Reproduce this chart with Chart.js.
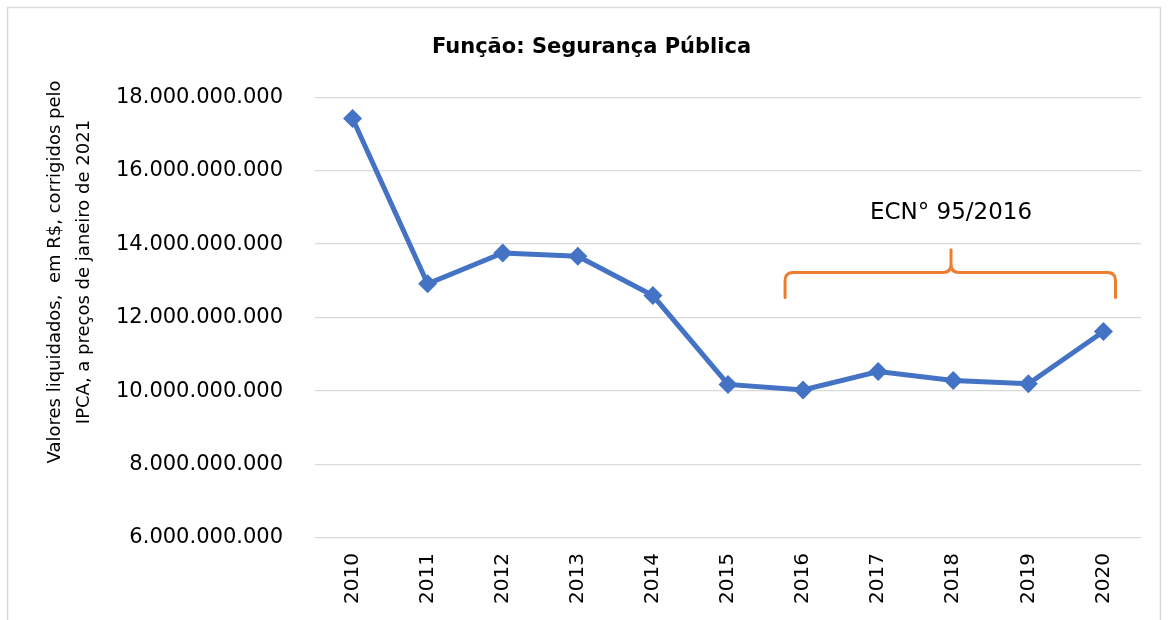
<!DOCTYPE html>
<html>
<head>
<meta charset="utf-8">
<script src="https://cdn.jsdelivr.net/npm/chart.js@4/dist/chart.umd.min.js"></script>
<style>
  body { margin: 0; background: #fff; }
  #wrap { width: 1169px; height: 620px; }
</style>
</head>
<body>
<div id="wrap"><canvas id="grafico" width="1169" height="620"></canvas></div>
<script>
var anos = ['2010', '2011', '2012', '2013', '2014', '2015', '2016', '2017', '2018', '2019', '2020'];
var valores = [17.42e9, 12.92e9, 13.76e9, 13.67e9, 12.60e9, 10.18e9, 10.03e9, 10.53e9, 10.29e9, 10.20e9, 11.62e9];
var ticksY = [6e9, 8e9, 10e9, 12e9, 14e9, 16e9, 18e9];
var tituloY = ['Valores liquidados,  em R$, corrigidos pelo', 'IPCA, a preços de janeiro de 2021'];
// chave da emenda: inicio, meio, fim (indice de categoria) e alturas (valor)
var chaveX = [5.76, 7.97, 10.16];
var chaveY = [12.55e9, 13.23e9, 13.85e9];
var chaveTexto = 'ECN° 95/2016';
var chaveTextoY = 14.86e9;

function formata(v) {
    return String(Math.round(v)).replace(/\B(?=(\d{3})+(?!\d))/g, '.');
}

var FONTE = 'DejaVu Sans';

var extras = {
    id: 'extras',
    beforeDraw: function(chart) {
        var c = chart.ctx;
        c.save();
        c.fillStyle = '#fff';
        c.fillRect(0, 0, chart.width, chart.height);
        c.strokeStyle = '#d9d9d9';
        c.lineWidth = 1.5;
        c.strokeRect(7.5, 7.5, 1153, 640);
        c.restore();
    },
    afterDraw: function(chart) {
        var c = chart.ctx;
        var xs = chart.scales.x, ys = chart.scales.y;
        // titulo do eixo y
        c.save();
        c.fillStyle = '#000';
        c.font = '18px "' + FONTE + '"';
        c.textAlign = 'center';
        c.textBaseline = 'middle';
        c.translate(55, 272);
        c.rotate(-Math.PI / 2);
        c.fillText(tituloY[0], 0, 0);
        c.fillText(tituloY[1], 0, 29);
        c.restore();

        // chave laranja
        var x0 = xs.getPixelForValue(chaveX[0]);
        var xm = xs.getPixelForValue(chaveX[1]);
        var x1 = xs.getPixelForValue(chaveX[2]);
        var yp = ys.getPixelForValue(chaveY[0]);
        var yb = ys.getPixelForValue(chaveY[1]);
        var yt = ys.getPixelForValue(chaveY[2]);
        var r = 8;
        c.save();
        c.strokeStyle = '#ED7D31';
        c.lineWidth = 3;
        c.lineCap = 'round';
        c.beginPath();
        c.moveTo(x0, yp);
        c.lineTo(x0, yb + r);
        c.quadraticCurveTo(x0, yb, x0 + r, yb);
        c.lineTo(xm - r, yb);
        c.quadraticCurveTo(xm, yb, xm, yb - r);
        c.lineTo(xm, yt);
        c.moveTo(xm, yb - r);
        c.quadraticCurveTo(xm, yb, xm + r, yb);
        c.lineTo(x1 - r, yb);
        c.quadraticCurveTo(x1, yb, x1, yb + r);
        c.lineTo(x1, yp);
        c.stroke();
        c.fillStyle = '#000';
        c.font = '23px "' + FONTE + '"';
        c.textAlign = 'center';
        c.textBaseline = 'middle';
        c.fillText(chaveTexto, xm, ys.getPixelForValue(chaveTextoY));
        c.restore();
    }
};

var ctx = document.getElementById('grafico').getContext('2d');
var grafico = new Chart(ctx, {
    type: 'line',
    data: {
        labels: anos,
        datasets: [{
            label: 'Segurança Pública',
            data: valores,
            borderColor: '#4472C4',
            backgroundColor: '#4472C4',
            borderWidth: 5,
            pointStyle: 'rectRot',
            pointRadius: 9.5,
            pointHoverRadius: 9.5,
            pointBackgroundColor: '#4472C4',
            pointBorderWidth: 0,
            tension: 0
        }]
    },
    options: {
        responsive: false,
        animation: false,
        layout: { padding: { left: 42, right: 28, top: 7, bottom: 0 } },
        plugins: {
            legend: { display: false },
            tooltip: { enabled: false },
            title: {
                display: true,
                text: 'Função: Segurança Pública',
                color: '#000',
                font: { family: FONTE, size: 21, weight: 'bold' },
                padding: { top: 28, bottom: 37 }
            }
        },
        scales: {
            x: {
                offset: true,
                grid: { display: false, drawTicks: false },
                border: { display: false },
                ticks: {
                    color: '#000',
                    font: { family: FONTE, size: 20 },
                    minRotation: 90,
                    maxRotation: 90,
                    padding: 15
                },
                afterFit: function(s) { s.height = 82; }
            },
            y: {
                min: 6e9,
                max: 18e9,
                grid: { color: '#d9d9d9', lineWidth: 1.3, drawTicks: false },
                border: { display: false },
                afterBuildTicks: function(s) {
                    s.ticks = ticksY.map(function(v) { return { value: v }; });
                },
                ticks: {
                    color: '#000',
                    font: { family: FONTE, size: 21 },
                    padding: 32,
                    callback: function(v) { return formata(v); }
                },
                afterFit: function(s) { s.width = 273; }
            }
        }
    },
    plugins: [extras]
});
</script>
</body>
</html>
